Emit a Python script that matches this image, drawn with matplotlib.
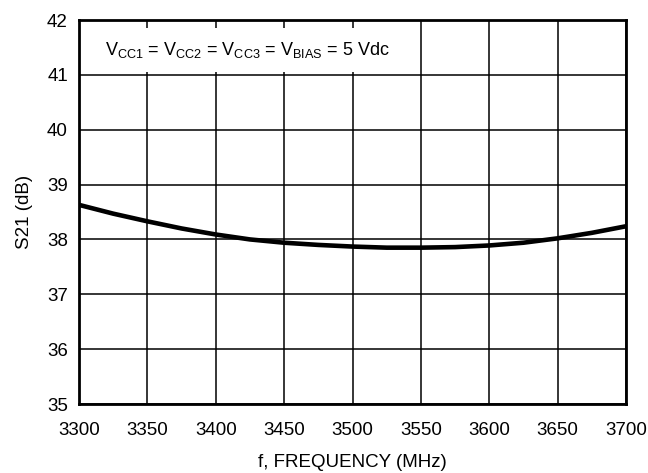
import matplotlib
matplotlib.use('Agg')
import matplotlib.pyplot as plt
import numpy as np

plt.rcParams['font.family'] = ['Liberation Sans Narrow', 'Liberation Sans', 'DejaVu Sans']
plt.rcParams['mathtext.fontset'] = 'custom'
plt.rcParams['mathtext.rm'] = 'Liberation Sans'
plt.rcParams['mathtext.it'] = 'Liberation Sans'

# S21 gain vs frequency
freq_mhz = [3300, 3325, 3350, 3375, 3400, 3425, 3450, 3475, 3500,
            3525, 3550, 3575, 3600, 3625, 3650, 3675, 3700]
s21_db = [38.63, 38.47, 38.33, 38.20, 38.09, 38.00, 37.94, 37.90, 37.87,
          37.85, 37.85, 37.86, 37.89, 37.94, 38.02, 38.12, 38.24]

x_ticks = [3300, 3350, 3400, 3450, 3500, 3550, 3600, 3650, 3700]
y_ticks = [35, 36, 37, 38, 39, 40, 41, 42]

fig = plt.figure(figsize=(6.48, 4.73), dpi=100)
ax = fig.add_axes([79 / 648, 1 - 404 / 473, 547 / 648, 384 / 473])

ax.plot(freq_mhz, s21_db, color='black', lw=3.3, zorder=3,
        solid_capstyle='butt')

ax.set_xlim(3300, 3700)
ax.set_ylim(35, 42)
ax.set_xticks(x_ticks)
ax.set_yticks(y_ticks)
ax.grid(True, color='black', lw=1.1)
ax.tick_params(length=0, labelsize=13.5)
ax.tick_params(axis='x', pad=13)
ax.tick_params(axis='y', pad=8)
for sp in ax.spines.values():
    sp.set_linewidth(2.0)

ax.set_xlabel('f, FREQUENCY (MHz)', fontsize=13.5, labelpad=11)
ax.set_ylabel('S21 (dB)', fontsize=13.5, labelpad=10)

ax.text(3319, 41.45,
        r'$\mathrm{V_{CC1}}$ = $\mathrm{V_{CC2}}$ = $\mathrm{V_{CC3}}$ = $\mathrm{V_{BIAS}}$ = 5 Vdc',
        fontsize=13, ha='left', va='center', zorder=4,
        bbox=dict(boxstyle='square,pad=0.65', fc='white', ec='none'))

fig.savefig('out.png', dpi=100)
